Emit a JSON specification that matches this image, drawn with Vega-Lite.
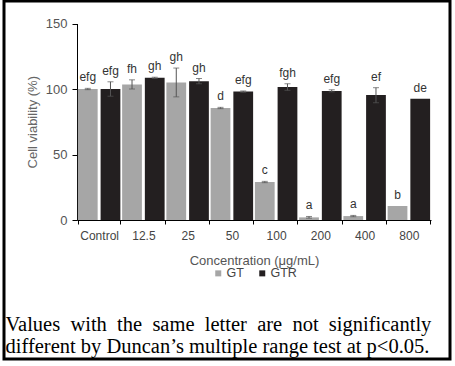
{
  "$schema": "https://vega.github.io/schema/vega-lite/v6.json",
  "width": 446,
  "height": 358,
  "autosize": {"type": "none"},
  "padding": {"left": 4, "top": 1, "right": 5, "bottom": 7},
  "background": "#ffffff",
  "config": {
    "view": {"stroke": "#000000", "strokeWidth": 3},
    "axis": {"labelFont": "Liberation Sans", "titleFont": "Liberation Sans", "titleFontWeight": "normal", "grid": false},
    "legend": {"labelFont": "Liberation Sans"}
  },
  "data": {"values": [
    {"conc": "Control", "group": "GT", "v": 100, "lo": 99.5, "hi": 100.5, "sig": "efg"},
    {"conc": "Control", "group": "GTR", "v": 100, "lo": 94.5, "hi": 105.5, "sig": "efg"},
    {"conc": "12.5", "group": "GT", "v": 103.5, "lo": 100, "hi": 107, "sig": "fh"},
    {"conc": "12.5", "group": "GTR", "v": 108.5, "lo": 108, "hi": 109, "sig": "gh"},
    {"conc": "25", "group": "GT", "v": 105, "lo": 94, "hi": 116, "sig": "gh"},
    {"conc": "25", "group": "GTR", "v": 106, "lo": 104, "hi": 108, "sig": "gh"},
    {"conc": "50", "group": "GT", "v": 85.5, "lo": 85, "hi": 86, "sig": "d"},
    {"conc": "50", "group": "GTR", "v": 98, "lo": 97.5, "hi": 98.5, "sig": "efg"},
    {"conc": "100", "group": "GT", "v": 29, "lo": 28.5, "hi": 29.5, "sig": "c"},
    {"conc": "100", "group": "GTR", "v": 101.5, "lo": 99, "hi": 104, "sig": "fgh"},
    {"conc": "200", "group": "GT", "v": 2, "lo": 1.4, "hi": 2.7, "sig": "a"},
    {"conc": "200", "group": "GTR", "v": 98.5, "lo": 97.8, "hi": 99.4, "sig": "efg"},
    {"conc": "400", "group": "GT", "v": 3, "lo": 2.5, "hi": 3.5, "sig": "a"},
    {"conc": "400", "group": "GTR", "v": 95.5, "lo": 89.5, "hi": 101, "sig": "ef"},
    {"conc": "800", "group": "GT", "v": 10.7, "lo": 10.7, "hi": 10.7, "sig": "b"},
    {"conc": "800", "group": "GTR", "v": 92.5, "lo": 92.5, "hi": 92.5, "sig": "de"}
  ]},
  "resolve": {"axis": {"x": "independent"}},
  "layer": [
    {
      "mark": {"type": "bar"},
      "encoding": {
        "x": {"field": "conc", "type": "nominal", "sort": null,
          "scale": {"range": [73, 427], "paddingInner": 0.04, "paddingOuter": 0.02},
          "axis": {"orient": "bottom", "title": "Concentration (μg/mL)", "labelAngle": 0, "offset": -139, "tickBand": "extent",
            "domainColor": "#000000", "tickColor": "#000000", "tickSize": 4, "labelPadding": 6,
            "labelFontSize": 12, "labelColor": "#444444", "titleFontSize": 13, "titleColor": "#555555",
            "titleBaseline": "alphabetic", "titleY": 44}},
        "xOffset": {"field": "group", "type": "nominal", "scale": {"paddingInner": 0.13, "paddingOuter": 0}},
        "y": {"field": "v", "type": "quantitative",
          "scale": {"domain": [0, 150], "range": [219, 22.5], "nice": false},
          "axis": {"title": "Cell viability (%)", "values": [0, 50, 100, 150], "offset": -73,
            "domainColor": "#000000", "tickColor": "#000000", "tickSize": 5, "labelPadding": 5,
            "labelFontSize": 13, "labelColor": "#555555", "titleFontSize": 13, "titleColor": "#666666", "titlePadding": 6}},
        "color": {"field": "group", "type": "nominal",
          "scale": {"domain": ["GT", "GTR"], "range": ["#a6a6a6", "#231f20"]},
          "legend": {"title": null, "orient": "none", "legendX": 208, "legendY": 266, "direction": "horizontal",
            "symbolType": "square", "symbolSize": 36, "symbolStrokeWidth": 0, "labelFontSize": 12.5,
            "labelColor": "#444444", "labelOffset": 2, "columnPadding": 12, "padding": 0}}
      }
    },
    {
      "transform": [{"filter": "datum.hi > datum.lo"}],
      "mark": {"type": "rule", "color": "#555555", "strokeWidth": 1},
      "encoding": {
        "x": {"field": "conc", "type": "nominal", "sort": null, "axis": null},
        "xOffset": {"field": "group", "type": "nominal"},
        "y": {"field": "lo", "type": "quantitative"},
        "y2": {"field": "hi"}
      }
    },
    {
      "transform": [{"filter": "datum.hi > datum.lo"}],
      "mark": {"type": "tick", "color": "#555555", "thickness": 1, "size": 6},
      "encoding": {
        "x": {"field": "conc", "type": "nominal", "sort": null, "axis": null},
        "xOffset": {"field": "group", "type": "nominal"},
        "y": {"field": "hi", "type": "quantitative"}
      }
    },
    {
      "transform": [{"filter": "datum.hi > datum.lo"}],
      "mark": {"type": "tick", "color": "#555555", "thickness": 1, "size": 6},
      "encoding": {
        "x": {"field": "conc", "type": "nominal", "sort": null, "axis": null},
        "xOffset": {"field": "group", "type": "nominal"},
        "y": {"field": "lo", "type": "quantitative"}
      }
    },
    {
      "mark": {"type": "text", "font": "Liberation Sans", "fontSize": 12, "color": "#333333", "baseline": "alphabetic", "dy": -7},
      "encoding": {
        "x": {"field": "conc", "type": "nominal", "sort": null,
          "axis": {"orient": "bottom", "title": ["Values\u00a0 with\u00a0 the\u00a0 same\u00a0 letter\u00a0 are\u00a0 not\u00a0 significantly", "different by Duncan’s multiple range test at p<0.05."],
            "labels": false, "ticks": false, "domain": false, "offset": 0,
            "titleFont": "Liberation Serif", "titleFontSize": 20.5, "titleColor": "#000000", "titleFontWeight": "normal",
            "titleAlign": "left", "titleAnchor": "start", "titleX": 1, "titleY": -29, "titleBaseline": "alphabetic", "titleLineHeight": 22}},
        "xOffset": {"field": "group", "type": "nominal"},
        "y": {"field": "hi", "type": "quantitative"},
        "text": {"field": "sig"}
      }
    }
  ]
}
